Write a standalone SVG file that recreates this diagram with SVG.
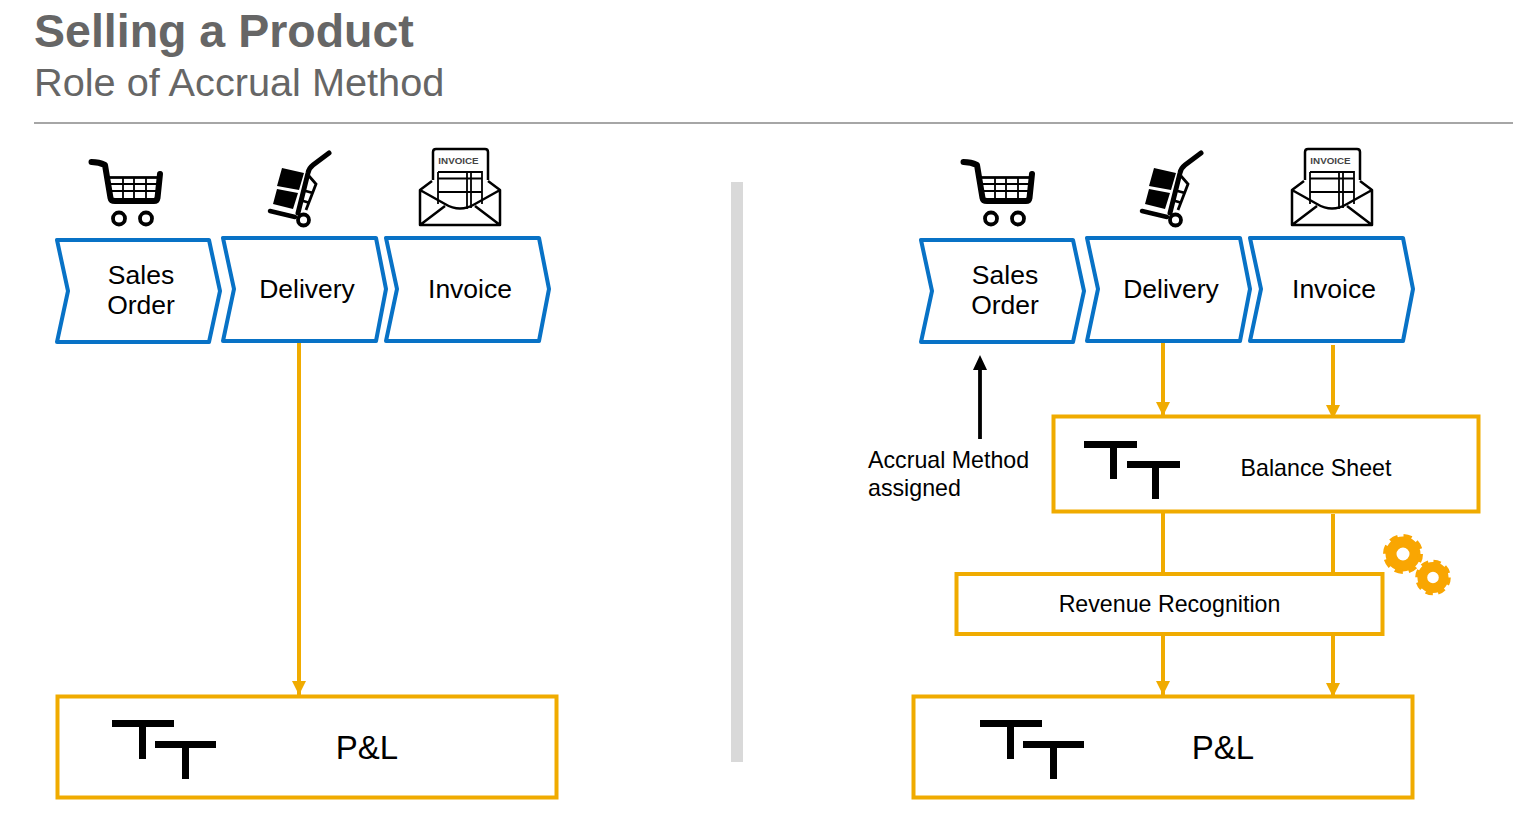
<svg xmlns="http://www.w3.org/2000/svg" xmlns:xlink="http://www.w3.org/1999/xlink" width="1513" height="814" viewBox="0 0 1513 814">
<style>
text{font-family:"Liberation Sans",Arial,sans-serif;fill:#000}
.ch{fill:#fff;stroke:#0872c6;stroke-width:4;stroke-linejoin:round}
.bx{fill:#fff;stroke:#f0ab00;stroke-width:4}
.cn{stroke:#f0ab00;stroke-width:4;fill:none}
.lb{font-size:26.500px;text-anchor:middle}
.k{stroke:#000;fill:none}
</style>
<defs>
<marker id="oa" markerUnits="userSpaceOnUse" markerWidth="14" markerHeight="14" refX="14" refY="7" orient="auto" viewBox="0 0 14 14"><path d="M0 0L14 7L0 14Z" fill="#f0ab00"/></marker>
<g id="cart">
<path d="M91.500 162C96 162 101 163 105 165L110.500 198Q111 201 115 201L154 201Q157 201 157.500 198L160 174" class="k" stroke-width="6" stroke-linecap="round" stroke-linejoin="round"/>
<path d="M108 177.500H159M110 184H158M111 191H158M123 177V198M134 177V198M146 177V198" class="k" stroke-width="1.800"/>
<path d="M108 177.500H159" class="k" stroke-width="2.500"/>
<circle cx="119" cy="218.500" r="6" class="k" stroke-width="3.800"/><circle cx="146" cy="218.500" r="6" class="k" stroke-width="3.800"/>
</g>
<g id="truck">
<path d="M282 168L304 173L299 190L277 186ZM277 189L298 193L293 209L273 204Z" fill="#000"/>
<path d="M270 211L295 217" class="k" stroke-width="4.500" stroke-linecap="round"/>
<path d="M329 153L313 165Q309 168 308 173L298 213" class="k" stroke-width="5" stroke-linecap="round"/>
<path d="M309 176L316 184L306 210M302 190L313 193M300 200L310 203" class="k" stroke-width="2.800"/>
<circle cx="303.500" cy="220" r="5.500" class="k" stroke-width="3.800"/>
</g>
<g id="inv">
<path d="M433 180V152Q433 149 436 149H485Q488 149 488 152V180M432 181L420 190V225H500V190L488 181M420 190L445 204Q460 213 475 204L500 190M420 225L445 206M500 225L475 206" class="k" stroke-width="2.500" stroke-linejoin="round"/>
<path d="M438 172H482V204M438 172V204M438 178.500H482M438 192H482M467 172V209M471 172V208" class="k" stroke-width="1.800"/>
<text x="458.500" y="164" style="font-size:9.800px;font-weight:700;fill:#444;text-anchor:middle">INVOICE</text>
</g>
<g id="tt" fill="#000">
<rect x="0" y="0" width="62" height="7"/><rect x="27" y="0" width="7" height="39"/>
<rect x="43" y="21" width="61" height="7"/><rect x="70" y="21" width="7" height="38"/>
</g>
<g id="gear">
<circle r="12" fill="none" stroke="#f9a602" stroke-width="11"/>
<circle r="17.500" fill="none" stroke="#f9a602" stroke-width="5" stroke-dasharray="8 5.740"/>
</g>
</defs>
<g id="title">
<text x="34" y="47" style="font-size:46.500px;font-weight:700;fill:#666">Selling a Product</text>
<text x="34" y="96" style="font-size:39.700px;fill:#666">Role of Accrual Method</text>
<rect x="34" y="122" width="1479" height="2" fill="#a6a6a6"/>
<rect x="731" y="182" width="12" height="580" fill="#d9d9d9"/>
</g>
<g id="connectors">
<path class="cn" d="M299 342V695" marker-end="url(#oa)"/>
<path class="cn" d="M1163 341V416" marker-end="url(#oa)"/>
<path class="cn" d="M1333 345V419" marker-end="url(#oa)"/>
<path class="cn" d="M1163 512V574M1333 514V574"/>
<path class="cn" d="M1163 634V695" marker-end="url(#oa)"/>
<path class="cn" d="M1333 634V697" marker-end="url(#oa)"/>
<path d="M980 439V368" stroke="#000" stroke-width="3.800"/><path d="M973 370L980 355L987 370Z" fill="#000"/>
</g>
<g id="l-sales"><path class="ch" d="M57 240H209L220 291L209 342H57L68 291Z"/><text class="lb" x="141" y="284">Sales</text><text class="lb" x="141" y="314">Order</text></g>
<g id="l-delivery"><path class="ch" d="M223 238H376L386 289L376 341H223L234 289Z"/><text class="lb" x="307" y="298">Delivery</text></g>
<g id="l-invoice"><path class="ch" d="M386 238H539L549 289L539 341H386L397 289Z"/><text class="lb" x="470" y="298">Invoice</text></g>
<g id="l-pl"><rect class="bx" x="57.500" y="696.500" width="499" height="101"/><use xlink:href="#tt" x="112" y="720"/><text x="367" y="759" style="font-size:33px;text-anchor:middle">P&amp;L</text></g>
<g id="left-icons"><use xlink:href="#cart"/><use xlink:href="#truck"/><use xlink:href="#inv"/></g>
<g id="right-icons"><use xlink:href="#cart" x="872"/><use xlink:href="#truck" x="872"/><use xlink:href="#inv" x="872"/></g>
<g id="r-sales"><path class="ch" d="M921 240H1073L1084 291L1073 342H921L932 291Z"/><text class="lb" x="1005" y="284">Sales</text><text class="lb" x="1005" y="314">Order</text></g>
<g id="r-delivery"><path class="ch" d="M1087 238H1240L1250 289L1240 341H1087L1098 289Z"/><text class="lb" x="1171" y="298">Delivery</text></g>
<g id="r-invoice"><path class="ch" d="M1250 238H1403L1413 289L1403 341H1250L1261 289Z"/><text class="lb" x="1334" y="298">Invoice</text></g>
<g id="accrual-label"><text x="868" y="468" style="font-size:23.200px">Accrual Method</text><text x="868" y="496" style="font-size:23.200px">assigned</text></g>
<g id="balance-sheet"><rect class="bx" x="1053.500" y="416.500" width="425" height="95"/>
<g fill="#000"><rect x="1084" y="441" width="53" height="7"/><rect x="1110" y="441" width="7" height="38"/><rect x="1127" y="461" width="53" height="7"/><rect x="1152" y="461" width="7" height="38"/></g>
<text x="1316" y="476" style="font-size:23.200px;text-anchor:middle">Balance Sheet</text></g>
<g id="revenue-recognition"><rect class="bx" x="956.500" y="574" width="426" height="60"/><text x="1169.500" y="612" style="font-size:23.200px;text-anchor:middle">Revenue Recognition</text></g>
<g id="gears"><use xlink:href="#gear" transform="translate(1403 554)"/><use xlink:href="#gear" transform="translate(1433 577.500) scale(.89)"/></g>
<g id="r-pl"><rect class="bx" x="913.500" y="696.500" width="499" height="101"/><use xlink:href="#tt" x="980" y="720"/><text x="1223" y="759" style="font-size:33px;text-anchor:middle">P&amp;L</text></g>
</svg>
